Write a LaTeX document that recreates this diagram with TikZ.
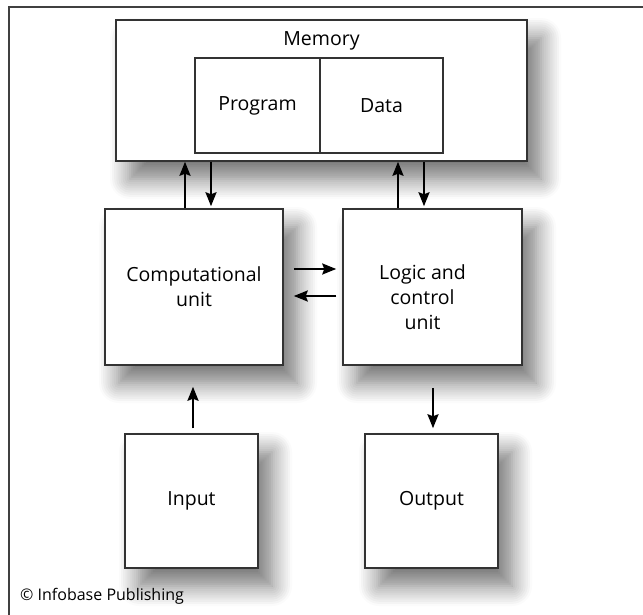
\documentclass[tikz,border=0pt]{standalone}
\usepackage{fontspec}
\setmainfont{Open Sans}
\usetikzlibrary{arrows.meta,shadows.blur}
\tikzset{
  unit/.style={draw=black!80,line width=1.5pt,fill=white,inner sep=0pt,
    font=\fontsize{19.5}{25}\selectfont,align=center,
    blur shadow={shadow xshift=14pt,shadow yshift=-18pt,shadow blur radius=20pt,
      shadow blur steps=10,shadow opacity=55}},
  part/.style={draw=black!80,line width=1.3pt,fill=white,inner sep=0pt,
    font=\fontsize{19.5}{25}\selectfont},
  lbl/.style={font=\fontsize{19.5}{25}\selectfont,align=center,inner sep=0pt},
  arr/.style={draw,-{Stealth[length=14pt,width=11pt,inset=2pt]},line width=2pt}
}
\begin{document}
\begin{tikzpicture}[x=1pt,y=-1pt]
  \useasboundingbox (0,0) rectangle (643,615);
  \coordinate (framebl) at (9,615);
  \coordinate (frametl) at (9,7);
  \coordinate (frametr) at (643,7);
  \draw[line width=1.6pt,black!75] (framebl) -- (frametl) -- (frametr);

  \node[unit,minimum width=411pt,minimum height=141pt] (memory) at (321.5,90.5) {};
  \node[lbl,anchor=base] (memorytext) at ([yshift=-26pt]memory.north) {Memory};
  \node[part,minimum width=125pt,minimum height=95pt] (program) at (257.5,105.5) {\raisebox{-3pt}{Program}};
  \node[part,minimum width=123pt,minimum height=95pt] (data) at (381.5,105.5) {\raisebox{-3pt}{Data}};

  \node[unit,minimum width=178pt,minimum height=156pt] (comp) at (194,287) {Computational\\unit};
  \node[unit,minimum width=179pt,minimum height=156pt] (logic) at (432.5,287) {};
  \node[lbl] (logictext) at ([xshift=-10pt,yshift=-10pt]logic.center) {Logic and\\control\\unit};

  \node[unit,minimum width=133pt,minimum height=134pt] (input) at (191.5,501) {Input};
  \node[unit,minimum width=133pt,minimum height=134pt] (output) at (431.5,501) {Output};

  \node[anchor=base west,inner sep=0pt,font=\fontsize{16}{18}\selectfont] (credit) at (20,600) {© Infobase Publishing};

  \path
    ([xshift=-9pt]comp.north) edge[arr] ([xshift=-9pt]comp.north |- memory.south)
    ([xshift=17pt]comp.north |- memory.south) edge[arr,shorten >=2pt] ([xshift=17pt]comp.north)
    ([xshift=-34.5pt]logic.north) edge[arr] ([xshift=-34.5pt]logic.north |- memory.south)
    ([xshift=-8.5pt]logic.north |- memory.south) edge[arr,shorten >=2pt] ([xshift=-8.5pt]logic.north)
    ([yshift=18pt]comp.east) edge[arr,shorten <=10pt,shorten >=6pt] ([yshift=18pt]comp.east -| logic.west)
    ([yshift=-9pt]comp.east -| logic.west) edge[arr,shorten <=6pt,shorten >=10pt] ([yshift=-9pt]comp.east)
    ([xshift=1.5pt]input.north) edge[arr,shorten <=5pt,shorten >=21pt] ([xshift=1.5pt]input.north |- comp.south)
    ([xshift=1.5pt]output.north |- logic.south) edge[arr,shorten <=22pt,shorten >=5pt] ([xshift=1.5pt]output.north);
\end{tikzpicture}
\end{document}
